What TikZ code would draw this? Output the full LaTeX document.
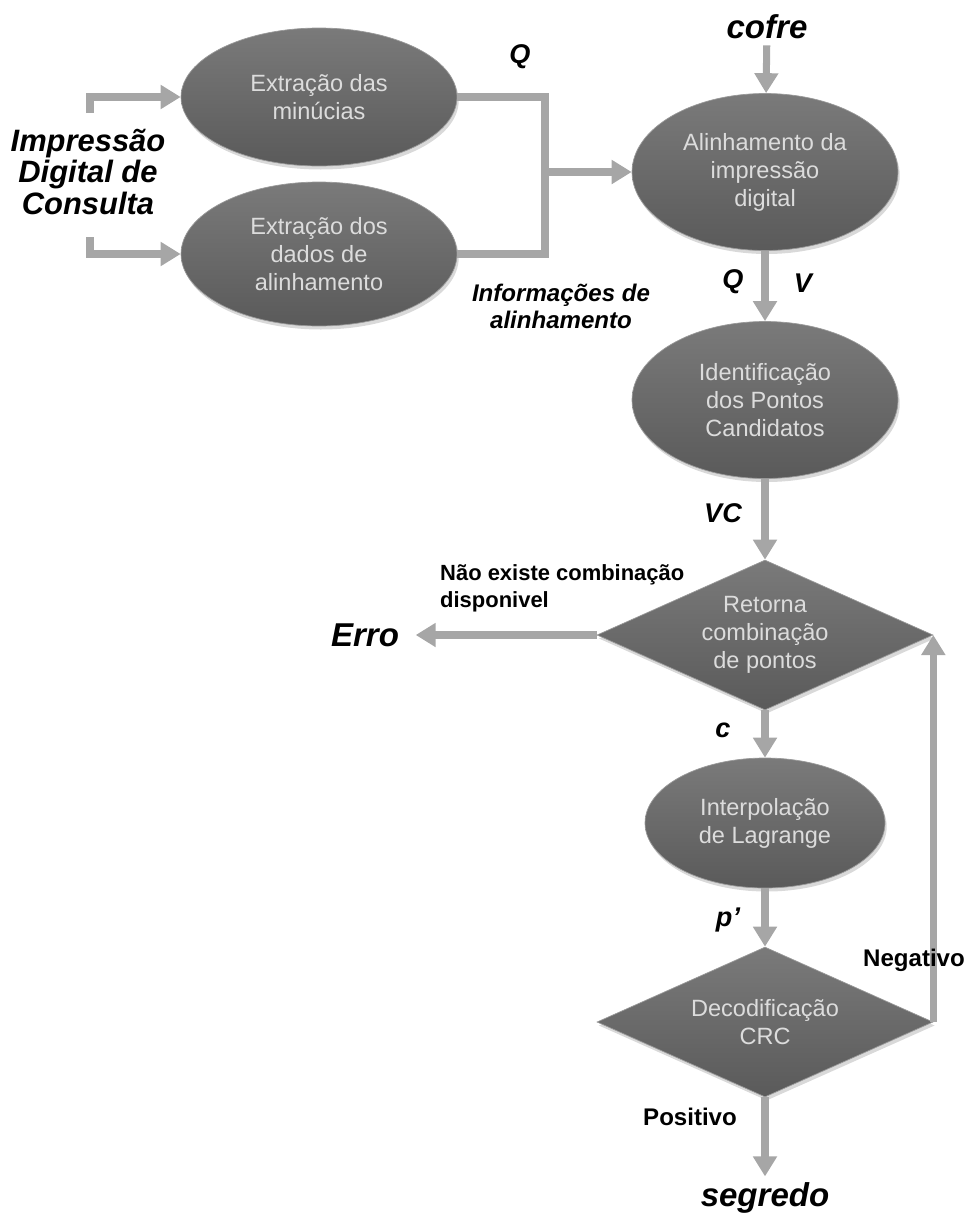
\documentclass[tikz,border=0pt]{standalone}
\usepackage{fontspec}
\setmainfont{Liberation Sans}
\usetikzlibrary{shapes.geometric, arrows.meta, shadows}

\definecolor{cinzaseta}{HTML}{A6A6A6}
\definecolor{cinzaclaro}{HTML}{7A7A7A}
\definecolor{cinzaescuro}{HTML}{5A5A5A}
\definecolor{textoclaro}{HTML}{DCDCDC}

\begin{document}
\begin{tikzpicture}[x=0.02cm, y=-0.02cm,
    forma/.style={inner sep=0pt, draw=gray!80, thin,
        top color=cinzaclaro, bottom color=cinzaescuro,
        drop shadow={opacity=0.3, shadow xshift=1pt, shadow yshift=-2pt},
        text=textoclaro, align=center, font=\fontsize{13.4}{15.9}\selectfont},
    bloco/.style={forma, ellipse},
    decisao/.style={forma, diamond, aspect=2.24},
    linha/.style={draw=cinzaseta, line width=4pt},
    seta/.style={linha, -{Triangle[length=0.4cm, width=0.46cm]}},
    rotulo/.style={font=\fontsize{15.4}{17}\selectfont\bfseries\itshape},
    titulo/.style={font=\fontsize{18.8}{19}\selectfont\bfseries\itshape},
    nota/.style={font=\fontsize{13}{15.4}\selectfont\bfseries}]
    \useasboundingbox (0,0) rectangle (971,1217);

    % LEFT: extraction of the query print
    \node[font=\fontsize{17.6}{18.2}\selectfont\bfseries\itshape, align=center] (consulta) at (88,172)
        {Impressão\\Digital de\\Consulta};
    \node[bloco, minimum width=5.52cm, minimum height=2.76cm] (minucias) at (319,97)
        {Extração das\\minúcias};
    \node[bloco, minimum width=5.52cm, minimum height=2.88cm] (dados) at (319,254)
        {Extração dos\\dados de\\alinhamento};

    \coordinate (ent1) at (90,113);
    \coordinate (ent2) at (90,237);
    \draw[seta] (ent1) |- (minucias.west);
    \draw[seta] (ent2) |- (dados.west);

    % RIGHT: main column
    \node[titulo] (cofre) at (767,27) {cofre};
    \node[bloco, minimum width=5.32cm, minimum height=3.14cm] (alinha) at (765,172)
        {Alinhamento da\\impressão\\digital};
    \node[bloco, minimum width=5.32cm, minimum height=3.14cm] (candidatos) at (765,400)
        {Identificação\\dos Pontos\\Candidatos};
    \node[decisao, minimum width=6.72cm, minimum height=3cm] (retorna) at (765,635)
        {Retorna\\combinação\\de pontos};
    \node[bloco, minimum width=4.8cm, minimum height=2.6cm] (lagrange) at (765,823)
        {Interpolação\\de Lagrange};
    \node[decisao, minimum width=6.72cm, minimum height=3cm] (crc) at (765,1022)
        {Decodificação\\CRC};
    \node[titulo] (erro) at (365,635) {Erro};
    \node[titulo] (segredo) at (765,1198) {segredo};

    % Joining the two extractions
    \coordinate (junta) at (545,172);
    \draw[linha] (minucias.east) -| (junta) |- (dados.east);
    \draw[seta] (junta) -- (alinha.west);

    % Vertical flow
    \draw[seta] (cofre) -- (alinha);
    \draw[seta] (alinha) -- (candidatos);
    \draw[seta] (candidatos) -- (retorna);
    \draw[seta] (retorna) -- (lagrange);
    \draw[seta] (lagrange) -- (crc);
    \draw[seta] (crc) -- (segredo);
    \draw[seta, shorten >=6pt] (retorna.west) -- (erro.east);
    \draw[seta] (crc.east) -- (retorna.east);

    % Labels
    \node[rotulo] (lq1) at (520,57) {Q};
    \node[rotulo, align=center, font=\fontsize{13.7}{15.4}\selectfont\bfseries\itshape] (linfo) at (561,306)
        {Informações de\\alinhamento};
    \node[rotulo] (lq2) at (733,282) {Q};
    \node[rotulo] (lv) at (803,283) {V};
    \node[rotulo] (lvc) at (723,513) {VC};
    \node[rotulo] (lc) at (723,730) {c};
    \node[rotulo] (lp) at (728,920) {p’};
    \node[nota, align=left, anchor=west, font=\fontsize{12.5}{15.4}\selectfont\bfseries] (lnao) at (434,588)
        {Não existe combinação\\disponivel};
    \node[nota, font=\fontsize{13.7}{15.4}\selectfont\bfseries] (lneg) at (914,960) {Negativo};
    \node[nota, font=\fontsize{13.7}{15.4}\selectfont\bfseries] (lpos) at (690,1117) {Positivo};
\end{tikzpicture}
\end{document}
